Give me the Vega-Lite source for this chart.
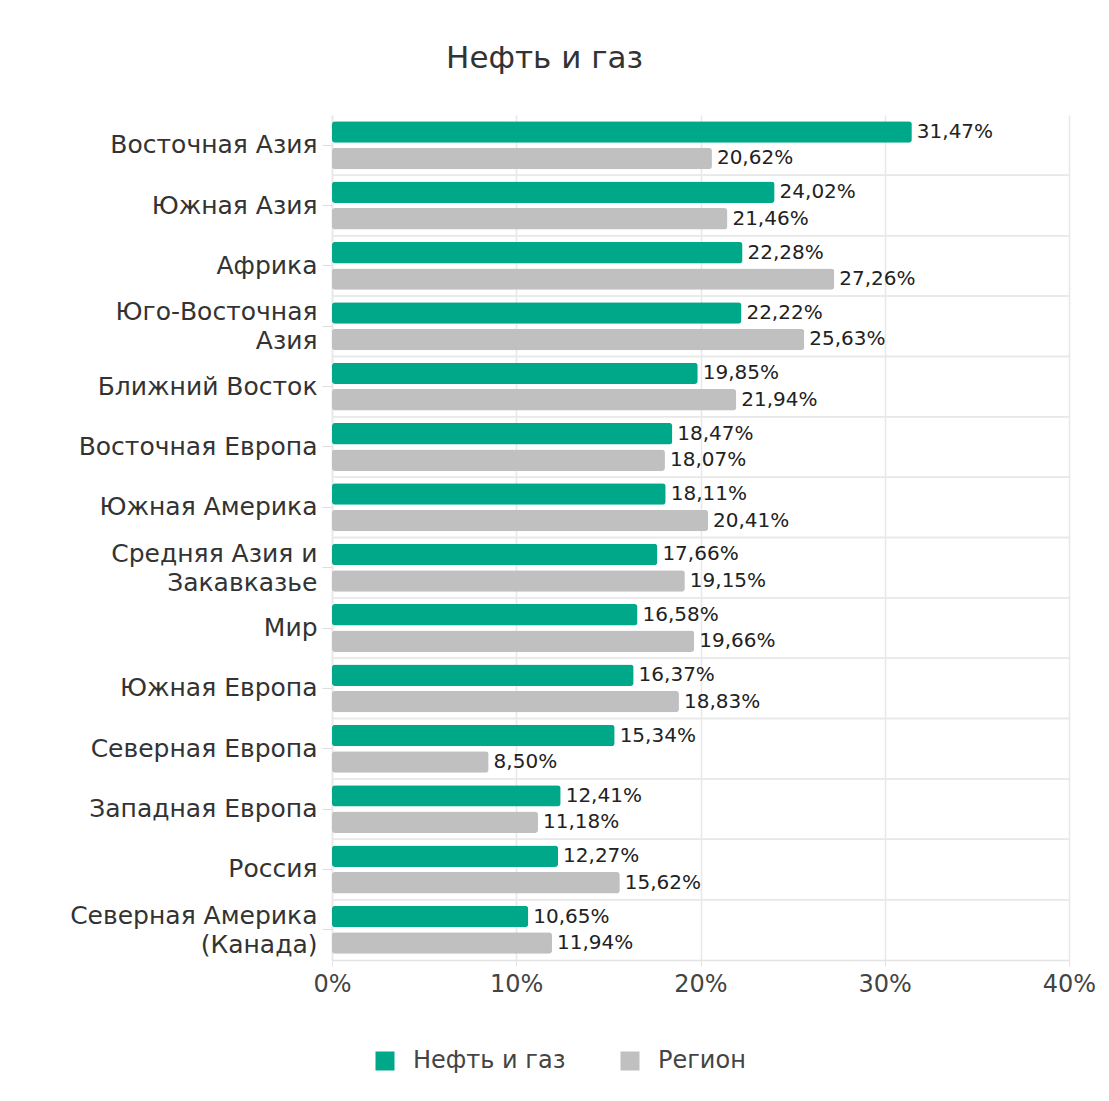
{
  "$schema": "https://vega.github.io/schema/vega-lite/v6.json",
  "autosize": "none",
  "width": 737,
  "height": 845,
  "padding": {"left": 332, "top": 115, "right": 40, "bottom": 141},
  "background": "white",
  "title": {"text": "Нефть и газ", "fontSize": 31, "font": "DejaVu Sans", "fontWeight": "normal", "color": "#333333", "anchor": "middle", "frame": "group", "dx": -156, "offset": 40},
  "config": {
    "font": "DejaVu Sans",
    "view": {"stroke": null},
    "locale": {"number": {"decimal": ",", "thousands": "\u00a0", "grouping": [3], "currency": ["", "\u00a0₽"]}},
    "axisX": {"grid": true, "gridColor": "#e8e8e8", "gridWidth": 1.5, "domainColor": "#e3e3e3", "domainWidth": 1.5, "tickColor": "#e3e3e3", "tickSize": 6, "labelFontSize": 24, "labelColor": "#444444", "labelPadding": 6, "labelFlush": false, "title": null},
    "axisY": {"grid": false, "domainColor": "#e8e8e8", "domainWidth": 1.5, "tickColor": "#dddddd", "tickSize": 10, "labelFontSize": 25, "labelColor": "#333333", "labelPadding": 5, "labelLineHeight": 29, "labelLimit": 320, "title": null}
  },
  "data": {"values": [
    {"region": "Восточная Азия", "series": "Нефть и газ", "value": 0.3147},
    {"region": "Восточная Азия", "series": "Регион", "value": 0.2062},
    {"region": "Южная Азия", "series": "Нефть и газ", "value": 0.2402},
    {"region": "Южная Азия", "series": "Регион", "value": 0.2146},
    {"region": "Африка", "series": "Нефть и газ", "value": 0.2228},
    {"region": "Африка", "series": "Регион", "value": 0.2726},
    {"region": "Юго-Восточная Азия", "series": "Нефть и газ", "value": 0.2222},
    {"region": "Юго-Восточная Азия", "series": "Регион", "value": 0.2563},
    {"region": "Ближний Восток", "series": "Нефть и газ", "value": 0.1985},
    {"region": "Ближний Восток", "series": "Регион", "value": 0.2194},
    {"region": "Восточная Европа", "series": "Нефть и газ", "value": 0.1847},
    {"region": "Восточная Европа", "series": "Регион", "value": 0.1807},
    {"region": "Южная Америка", "series": "Нефть и газ", "value": 0.1811},
    {"region": "Южная Америка", "series": "Регион", "value": 0.2041},
    {"region": "Средняя Азия и Закавказье", "series": "Нефть и газ", "value": 0.1766},
    {"region": "Средняя Азия и Закавказье", "series": "Регион", "value": 0.1915},
    {"region": "Мир", "series": "Нефть и газ", "value": 0.1658},
    {"region": "Мир", "series": "Регион", "value": 0.1966},
    {"region": "Южная Европа", "series": "Нефть и газ", "value": 0.1637},
    {"region": "Южная Европа", "series": "Регион", "value": 0.1883},
    {"region": "Северная Европа", "series": "Нефть и газ", "value": 0.1534},
    {"region": "Северная Европа", "series": "Регион", "value": 0.085},
    {"region": "Западная Европа", "series": "Нефть и газ", "value": 0.1241},
    {"region": "Западная Европа", "series": "Регион", "value": 0.1118},
    {"region": "Россия", "series": "Нефть и газ", "value": 0.1227},
    {"region": "Россия", "series": "Регион", "value": 0.1562},
    {"region": "Северная Америка (Канада)", "series": "Нефть и газ", "value": 0.1065},
    {"region": "Северная Америка (Канада)", "series": "Регион", "value": 0.1194}
  ]},
  "layer": [
    {
      "mark": {"type": "bar", "cornerRadius": 3},
      "encoding": {
        "y": {"field": "region", "type": "nominal",
              "sort": ["Восточная Азия", "Южная Азия", "Африка", "Юго-Восточная Азия", "Ближний Восток", "Восточная Европа", "Южная Америка", "Средняя Азия и Закавказье", "Мир", "Южная Европа", "Северная Европа", "Западная Европа", "Россия", "Северная Америка (Канада)"],
              "scale": {"paddingInner": 0, "paddingOuter": 0},
              "axis": {
                "labelExpr": "datum.label == 'Юго-Восточная Азия' ? ['Юго-Восточная', 'Азия'] : datum.label == 'Средняя Азия и Закавказье' ? ['Средняя Азия и', 'Закавказье'] : datum.label == 'Северная Америка (Канада)' ? ['Северная Америка', '(Канада)'] : datum.label",
                "labelOffset": {"condition": {"test": "indexof(['Юго-Восточная Азия', 'Средняя Азия и Закавказье', 'Северная Америка (Канада)'], datum.value) >= 0", "value": -14}, "value": 0}
              }},
        "yOffset": {"field": "series", "type": "nominal", "sort": ["Нефть и газ", "Регион"], "scale": {"paddingInner": 0.19, "paddingOuter": 0.234}},
        "x": {"field": "value", "type": "quantitative", "scale": {"domain": [0, 0.4], "nice": false},
              "axis": {"format": ".0%", "values": [0, 0.1, 0.2, 0.3, 0.4]}},
        "color": {"field": "series", "type": "nominal",
                  "scale": {"domain": ["Нефть и газ", "Регион"], "range": ["#00A88A", "#C0C0C0"]},
                  "legend": {"title": null, "orient": "none", "direction": "horizontal", "legendX": 41, "legendY": 934, "symbolType": "square", "symbolSize": 361, "symbolStrokeWidth": 0, "labelFontSize": 24, "labelColor": "#444444", "labelOffset": 16, "columnPadding": 52, "symbolOpacity": 1}}
      }
    },
    {
      "transform": [{"filter": "datum.region != 'Восточная Азия'"}],
      "mark": {"type": "rule", "color": "#e8e8e8", "strokeWidth": 1.5},
      "encoding": {
        "y": {"field": "region", "type": "nominal", "sort": ["Восточная Азия", "Южная Азия", "Африка", "Юго-Восточная Азия", "Ближний Восток", "Восточная Европа", "Южная Америка", "Средняя Азия и Закавказье", "Мир", "Южная Европа", "Северная Европа", "Западная Европа", "Россия", "Северная Америка (Канада)"], "bandPosition": 0},
        "x": {"datum": 0, "type": "quantitative"},
        "x2": {"datum": 0.4}
      }
    },
    {
      "mark": {"type": "text", "align": "left", "baseline": "middle", "dx": 5, "fontSize": 20, "color": "#222222"},
      "encoding": {
        "y": {"field": "region", "type": "nominal", "sort": ["Восточная Азия", "Южная Азия", "Африка", "Юго-Восточная Азия", "Ближний Восток", "Восточная Европа", "Южная Америка", "Средняя Азия и Закавказье", "Мир", "Южная Европа", "Северная Европа", "Западная Европа", "Россия", "Северная Америка (Канада)"]},
        "yOffset": {"field": "series", "type": "nominal", "sort": ["Нефть и газ", "Регион"]},
        "x": {"field": "value", "type": "quantitative"},
        "text": {"field": "value", "type": "quantitative", "format": ".2%"}
      }
    }
  ]
}
